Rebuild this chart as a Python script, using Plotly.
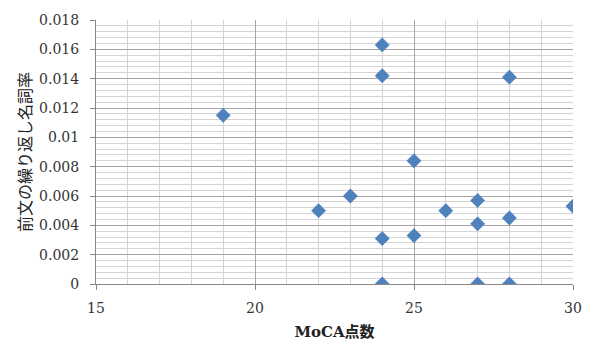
import plotly.graph_objects as go

moca = [19, 24, 24, 28, 25, 23, 22, 26, 27, 30, 27, 28, 24, 25, 24, 27, 28]
rate = [0.0115, 0.0163, 0.0142, 0.0141, 0.0084, 0.0060, 0.0050, 0.0050, 0.0057,
        0.0053, 0.0041, 0.0045, 0.0031, 0.0033, 0.0, 0.0, 0.0]

y_tickvals = [0, 0.002, 0.004, 0.006, 0.008, 0.010, 0.012, 0.014, 0.016, 0.018]
y_ticktext = ["0", "0.002", "0.004", "0.006", "0.008", "0.01", "0.012", "0.014", "0.016", "0.018"]
x_tickvals = [15, 20, 25, 30]
x_ticktext = ["15", "20", "25", "30"]

fig = go.Figure()
fig.add_trace(go.Scatter(
    x=moca, y=rate, mode="markers",
    marker=dict(symbol="diamond", size=11, color="#4F81BD",
                line=dict(width=0.5, color="#4A7EBB")),
    showlegend=False,
))

tick_font = dict(family="DejaVu Serif", size=14, color="#333333")

fig.update_layout(
    width=594, height=350,
    margin=dict(l=96, r=21, t=16, b=66),
    paper_bgcolor="white", plot_bgcolor="white",
    xaxis=dict(
        range=[15, 30], tickvals=x_tickvals, ticktext=x_ticktext,
        showgrid=True, gridcolor="#a6a6a6", gridwidth=1,
        minor=dict(dtick=1, tick0=15, showgrid=True, gridcolor="#d4d4d4", gridwidth=1),
        ticks="outside", ticklen=5, tickcolor="#888888",
        ticklabelstandoff=6,
        showline=True, linecolor="#888888", linewidth=1,
        zeroline=False, tickfont=tick_font,
        title=dict(text="<b>MoCA点数</b>", standoff=11,
                   font=dict(family="DejaVu Serif, Noto Sans CJK JP", size=15, color="#222222")),
    ),
    yaxis=dict(
        range=[0, 0.018], tickvals=y_tickvals, ticktext=y_ticktext,
        showgrid=True, gridcolor="#a6a6a6", gridwidth=1,
        minor=dict(dtick=0.0004, tick0=0, showgrid=True, gridcolor="#d4d4d4", gridwidth=1),
        ticks="outside", ticklen=5, tickcolor="#888888",
        ticklabelstandoff=8,
        showline=True, linecolor="#888888", linewidth=1,
        zeroline=False, tickfont=tick_font,
        title=dict(text="前文の繰り返し名詞率", standoff=3,
                   font=dict(family="Noto Sans CJK JP", size=16, color="#222222")),
    ),
)

fig.write_html("out.html")
